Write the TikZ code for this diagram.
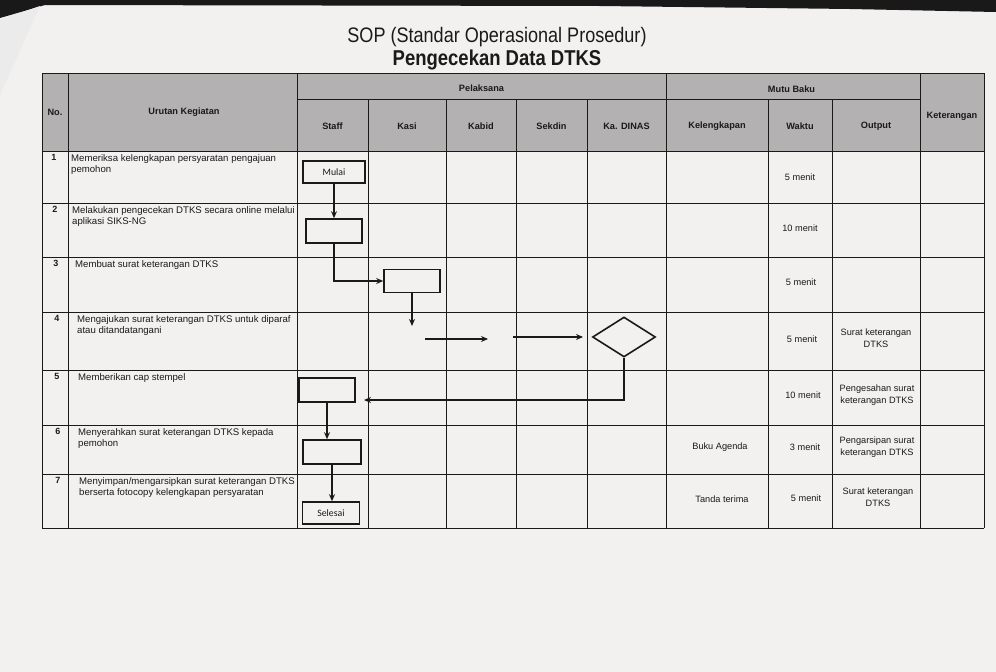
\documentclass[tikz,border=0pt]{standalone}
\usepackage{fontspec}
\setmainfont{Liberation Sans}
\newfontfamily\narrowfont[FakeStretch=0.86]{Liberation Sans}
\newfontfamily\boxfont{Carlito}
\usetikzlibrary{shapes.geometric,arrows.meta}
\definecolor{paper}{HTML}{F3F0F0}
\definecolor{hdr}{HTML}{B3B1B1}
\definecolor{ink}{HTML}{1A1A1A}
\tikzset{
  grid/.style={draw=ink,line width=0.9pt},
  hd/.style={font=\bfseries\fontsize{9.2}{11}\selectfont,text=ink,align=center},
  body/.style={font=\fontsize{9.6}{11.5}\selectfont,text=ink,anchor=north west,align=left,inner sep=0pt},
  num/.style={font=\bfseries\fontsize{9}{10}\selectfont,text=ink,anchor=north,inner sep=0pt},
  cell/.style={font=\fontsize{9.2}{12}\selectfont,text=ink,align=center},
  fbox/.style={draw=ink,line width=1.6pt,rectangle,font=\boxfont\fontsize{9.8}{11}\selectfont,text=ink,inner sep=0pt},
  dec/.style={draw=ink,line width=1.6pt,diamond,aspect=1.6,minimum width=63pt,minimum height=40pt,inner sep=0pt},
  flow/.style={draw=ink,line width=1.5pt,-{Stealth[length=7pt,width=6pt]}},
  line/.style={draw=ink,line width=1.5pt}
}
\begin{document}
\begin{tikzpicture}[x=1pt,y=-1pt]
\useasboundingbox (0,0) rectangle (996,672);
\fill[paper] (0,0) rectangle (996,672);
% dark edge of the photo at top
\fill[black!90] (0,0) -- (996,0) -- (996,12) -- (850,9) -- (600,6) -- (45,5) -- (0,18) -- cycle;
\fill[black!8] (0,20) -- (40,6) -- (0,95) -- cycle;

% title
\node[font=\narrowfont\fontsize{21}{24}\selectfont,text=ink] (t1) at (497,37) {SOP (Standar Operasional Prosedur)};
\node[font=\narrowfont\bfseries\fontsize{21.5}{24}\selectfont,text=ink] (t2) at (497,60) {Pengecekan Data DTKS};

% table header fill
\fill[hdr] (42,73) rectangle (984,151);
% grid
\foreach \x in {42,68,297,666,920,984} \draw[grid] (\x,73) -- (\x,528);
\foreach \x in {368,446,516,587,768,832} \draw[grid] (\x,99) -- (\x,528);
\draw[grid] (297,99) -- (920,99);
\foreach \y in {73,151,203,257,312,370,425,474,528} \draw[grid] (42,\y) -- (984,\y);

% header texts
\node[hd] (hno) at (55,112) {No.};
\node[hd] (hur) at (184,112) {Urutan Kegiatan};
\node[hd] (hpl) at (481.5,88) {Pelaksana};
\node[hd] (hmb) at (791.5,89) {Mutu Baku};
\node[hd] (hket) at (952,116) {Keterangan};
\node[hd] (hst) at (332.5,126) {Staff};
\node[hd] (hka) at (407,126) {Kasi};
\node[hd] (hkb) at (481,126) {Kabid};
\node[hd] (hsk) at (551.5,126) {Sekdin};
\node[hd] (hkd) at (626.5,126) {Ka. DINAS};
\node[hd] (hkl) at (717,126) {Kelengkapan};
\node[hd] (hwk) at (800,126) {Waktu};
\node[hd] (hou) at (876,126) {Output};

% numbers
\node[num] (n1) at (54,154) {1};
\node[num] (n2) at (55,206) {2};
\node[num] (n3) at (56,260) {3};
\node[num] (n4) at (57,315) {4};
\node[num] (n5) at (57,373) {5};
\node[num] (n6) at (58,428) {6};
\node[num] (n7) at (58,477) {7};

% activity texts
\node[body] (k1) at (71,154) {Memeriksa kelengkapan persyaratan pengajuan\\pemohon};
\node[body] (k2) at (72,206) {Melakukan pengecekan DTKS secara online melalui\\aplikasi SIKS-NG};
\node[body] (k3) at (75,260) {Membuat surat keterangan DTKS};
\node[body] (k4) at (77,315) {Mengajukan surat keterangan DTKS untuk diparaf\\atau ditandatangani};
\node[body] (k5) at (78,373) {Memberikan cap stempel};
\node[body] (k6) at (78,428) {Menyerahkan surat keterangan DTKS kepada\\pemohon};
\node[body] (k7) at (79,477) {Menyimpan/mengarsipkan surat keterangan DTKS\\berserta fotocopy kelengkapan persyaratan};

% waktu
\node[cell] (w1) at (800,177) {5 menit};
\node[cell] (w2) at (800,228) {10 menit};
\node[cell] (w3) at (801,282) {5 menit};
\node[cell] (w4) at (802,339) {5 menit};
\node[cell] (w5) at (803,395) {10 menit};
\node[cell] (w6) at (805,447) {3 menit};
\node[cell] (w7) at (806,498) {5 menit};

% output
\node[cell] (o4) at (876,338) {Surat keterangan\\DTKS};
\node[cell] (o5) at (877,395) {Pengesahan surat\\keterangan DTKS};
\node[cell] (o6) at (877,447) {Pengarsipan surat\\keterangan DTKS};
\node[cell] (o7) at (878,497) {Surat keterangan\\DTKS};

% kelengkapan
\node[cell] (kl6) at (720,447) {Buku Agenda};
\node[cell] (kl7) at (722,499) {Tanda terima};

% flowchart
\node[fbox,minimum width=62pt,minimum height=22pt] (mulai) at (334,172) {Mulai};
\node[fbox,minimum width=56pt,minimum height=24pt] (b2) at (334,231) {};
\node[fbox,minimum width=56pt,minimum height=23pt] (b3) at (412,281) {};
\node[dec] (d) at (624,337) {};
\node[fbox,minimum width=56pt,minimum height=24pt] (b5) at (327,390) {};
\node[fbox,minimum width=58pt,minimum height=24pt] (b6) at (332,452) {};
\node[fbox,minimum width=57pt,minimum height=22pt] (selesai) at (331,513) {Selesai};

\coordinate (b3end) at (412,326);
\coordinate (a1s) at (425,339);
\coordinate (a1e) at (488,339);
\coordinate (a2s) at (513,337);
\coordinate (a2e) at (583,337);
\coordinate (b5in) at (364,400);

\draw[flow] (mulai.south) -- (b2.north);
\draw[flow] (b2.south) |- (b3.west);
\draw[flow] (b3.south) -- (b3end);
\draw[flow] (a1s) -- (a1e);
\draw[flow] (a2s) -- (a2e);
\draw[flow] (d.south) |- (b5in);
\draw[flow] (b5.south) -- (b5.south |- b6.north);
\draw[flow] (b6.south) -- (b6.south |- selesai.north);
\end{tikzpicture}
\end{document}
